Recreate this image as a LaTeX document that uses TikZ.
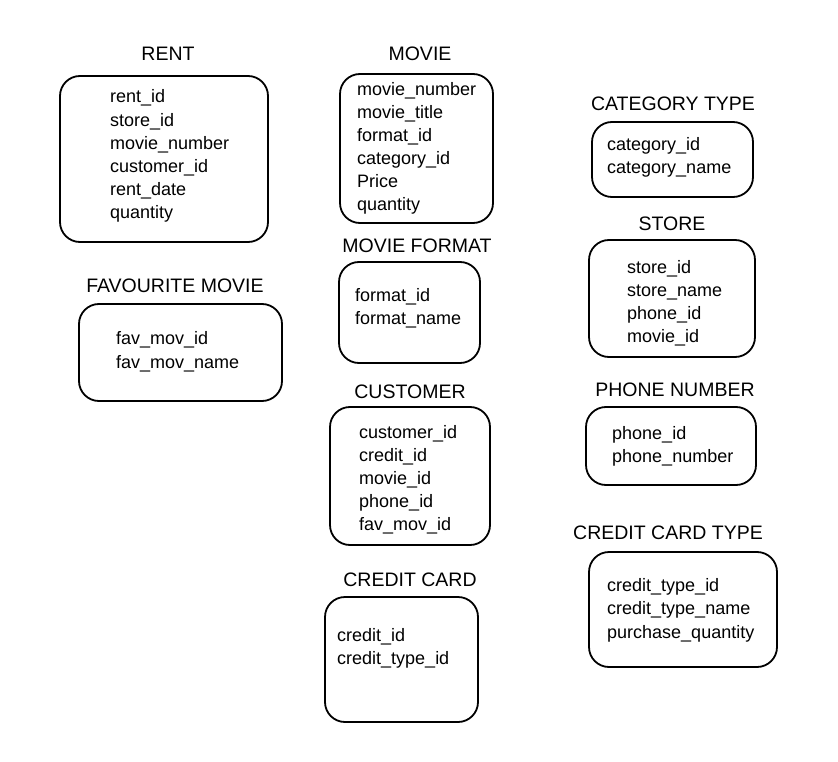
\documentclass[tikz,border=0pt]{standalone}
\usepackage{fontspec}
\setmainfont{Liberation Sans}

\tikzset{
    tablebox/.style={line width=1.8pt, rounded corners=20pt},
    tabletitle/.style={anchor=base, inner sep=0pt, font=\fontsize{19.5}{23}\selectfont},
    field/.style={anchor=base west, inner sep=0pt, font=\fontsize{18}{23}\selectfont}
}

\begin{document}
\begin{tikzpicture}[x=1pt, y=-1pt]
        \useasboundingbox (0,0) rectangle (838,762);

        % left column
        \draw[tablebox] (60,76) rectangle (268,242);
        \node[tabletitle] (rent-title) at (168,61) {RENT};
        \foreach \f [count=\i from 0] in {rent\_id, store\_id, movie\_number, customer\_id, rent\_date, quantity}
            \node[field] (rent-\i) at (110,{103+23.2*\i}) {\f};

        \draw[tablebox] (79,304) rectangle (282,401);
        \node[tabletitle] (fav-title) at (175,292) {FAVOURITE MOVIE};
        \foreach \f [count=\i from 0] in {fav\_mov\_id, fav\_mov\_name}
            \node[field] (fav-\i) at (116,{344+24*\i}) {\f};

        % middle column
        \draw[tablebox] (340,74) rectangle (493,223);
        \node[tabletitle] (movie-title) at (420,61) {MOVIE};
        \foreach \f [count=\i from 0] in {movie\_number, movie\_title, format\_id, category\_id, Price, quantity}
            \node[field] (movie-\i) at (357,{96+23*\i}) {\f};

        \draw[tablebox] (339,262) rectangle (480,363);
        \node[tabletitle] (format-title) at (417,253) {MOVIE FORMAT};
        \foreach \f [count=\i from 0] in {format\_id, format\_name}
            \node[field] (format-\i) at (355,{301+23*\i}) {\f};

        \draw[tablebox] (330,407) rectangle (490,545);
        \node[tabletitle] (cust-title) at (410,398) {CUSTOMER};
        \foreach \f [count=\i from 0] in {customer\_id, credit\_id, movie\_id, phone\_id, fav\_mov\_id}
            \node[field] (cust-\i) at (359,{438+23*\i}) {\f};

        \draw[tablebox] (325,597) rectangle (478,722);
        \node[tabletitle] (card-title) at (410,586) {CREDIT CARD};
        \foreach \f [count=\i from 0] in {credit\_id, credit\_type\_id}
            \node[field] (card-\i) at (337,{641+23*\i}) {\f};

        % right column
        \draw[tablebox] (592,122) rectangle (753,197);
        \node[tabletitle] (cat-title) at (673,111) {CATEGORY TYPE};
        \foreach \f [count=\i from 0] in {category\_id, category\_name}
            \node[field] (cat-\i) at (607,{151+23*\i}) {\f};

        \draw[tablebox] (589,240) rectangle (755,357);
        \node[tabletitle] (store-title) at (672,231) {STORE};
        \foreach \f [count=\i from 0] in {store\_id, store\_name, phone\_id, movie\_id}
            \node[field] (store-\i) at (627,{273+23.3*\i}) {\f};

        \draw[tablebox] (586,407) rectangle (756,485);
        \node[tabletitle] (phone-title) at (675,396) {PHONE NUMBER};
        \foreach \f [count=\i from 0] in {phone\_id, phone\_number}
            \node[field] (phone-\i) at (612,{439+23*\i}) {\f};

        \draw[tablebox] (589,552) rectangle (777,667);
        \node[tabletitle] (ctype-title) at (668,539) {CREDIT CARD TYPE};
        \foreach \f [count=\i from 0] in {credit\_type\_id, credit\_type\_name, purchase\_quantity}
            \node[field] (ctype-\i) at (607,{591+23.5*\i}) {\f};
    \end{tikzpicture}
\end{document}
